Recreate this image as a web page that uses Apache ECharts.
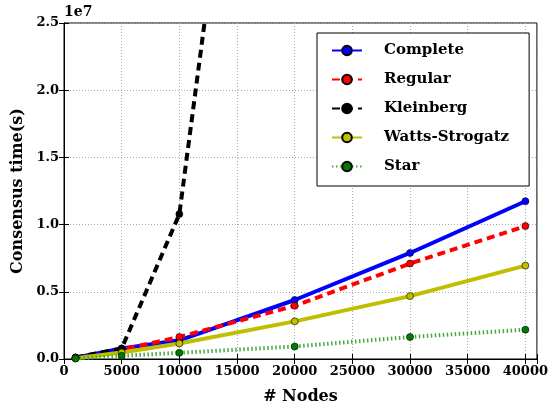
<!DOCTYPE html>
<html>
<head>
<meta charset="utf-8">
<script src="https://cdn.jsdelivr.net/npm/echarts@6/dist/echarts.min.js"></script>
<style>html,body{margin:0;padding:0;background:#fff;}#c{width:551px;height:410px;}</style>
</head>
<body>
<div id="c"></div>
<script>
var nodes = [1000, 5000, 10000, 20000, 30000, 40000];
var complete = [0.01e7, 0.078e7, 0.139e7, 0.439e7, 0.789e7, 1.174e7];
var regular = [0.01e7, 0.07e7, 0.164e7, 0.396e7, 0.71e7, 0.989e7];
var kleinberg = [0.012e7, 0.078e7, 1.078e7, 7.6e7];
var wattsStrogatz = [0.005e7, 0.048e7, 0.115e7, 0.28e7, 0.468e7, 0.695e7];
var star = [0.003e7, 0.024e7, 0.046e7, 0.093e7, 0.164e7, 0.218e7];
var xTicks = [0, 5000, 10000, 15000, 20000, 25000, 30000, 35000, 40000];
var yTicks = ['0.0', '0.5', '1.0', '1.5', '2.0', '2.5'];

function pairs(vals) { return vals.map(function (v, i) { return [nodes[i], v]; }); }

var FONT = 'DejaVu Serif';
var chart = echarts.init(document.getElementById('c'), null, {renderer: 'canvas'});

function mk(name, data, color, lineType, width, symColor) {
  return {
    name: name, type: 'line', data: pairs(data),
    symbol: 'circle', symbolSize: 7, showSymbol: true,
    lineStyle: {color: color, width: width, type: lineType, cap: 'butt'},
    itemStyle: {color: symColor || color, borderColor: '#000', borderWidth: 0.6},
    clip: true, z: 3, animation: false
  };
}

var gridLine = {show: true, lineStyle: {color: '#aaaaaa', width: 1, type: [1, 2]}};
var axisLine = {show: true, lineStyle: {color: '#000', width: 1}};
var tickStyle = {show: true, inside: true, length: 5, lineStyle: {color: '#000'}};
var labelStyle = {fontFamily: FONT, fontWeight: 'bold', fontSize: 13, color: '#000'};

var option = {
  animation: false,
  backgroundColor: '#fff',
  title: {text: '1e7', left: 64, top: 5, padding: 0,
    textStyle: {fontFamily: FONT, fontWeight: 'bold', fontSize: 14, color: '#000'}},
  grid: {left: 64, right: 13, top: 23, bottom: 50, show: true, borderColor: '#000', borderWidth: 1, backgroundColor: 'transparent'},
  legend: {
    orient: 'vertical', left: 317, top: 33,
    backgroundColor: '#fff', borderColor: '#000', borderWidth: 1,
    padding: [10, 20, 12, 14], itemWidth: 30, itemHeight: 12, itemGap: 14,
    textStyle: {fontFamily: FONT, fontWeight: 'bold', fontSize: 15, color: '#000', padding: [0, 0, 0, 17]},
    data: ['Complete', 'Regular', 'Kleinberg', 'Watts-Strogatz', 'Star']
  },
  xAxis: [{
    type: 'value', min: 0, max: 41000, interval: 5000,
    name: '# Nodes', nameLocation: 'middle', nameGap: 30,
    nameTextStyle: {fontFamily: FONT, fontWeight: 'bold', fontSize: 16, color: '#000'},
    axisLine: axisLine, axisTick: tickStyle, splitLine: gridLine,
    axisLabel: Object.assign({margin: 6, showMaxLabel: true, formatter: function (v) {
      var i = xTicks.indexOf(v); return i >= 0 ? String(xTicks[i]) : '';
    }}, labelStyle)
  }, {
    type: 'value', min: 0, max: 41000, interval: 5000, position: 'top',
    axisLine: axisLine, axisTick: tickStyle, splitLine: {show: false}, axisLabel: {show: false}
  }],
  yAxis: [{
    type: 'value', min: 0, max: 2.5e7, interval: 0.5e7,
    name: 'Consensus time(s)', nameLocation: 'middle', nameGap: 33,
    nameTextStyle: {fontFamily: FONT, fontWeight: 'bold', fontSize: 16, color: '#000'},
    axisLine: axisLine, axisTick: tickStyle, splitLine: gridLine,
    axisLabel: Object.assign({margin: 5, formatter: function (v) {
      var i = Math.round(v / 0.5e7); return yTicks[i] || '';
    }}, labelStyle)
  }, {
    type: 'value', min: 0, max: 2.5e7, interval: 0.5e7, position: 'right',
    axisLine: axisLine, axisTick: tickStyle, splitLine: {show: false}, axisLabel: {show: false}
  }],
  series: [
    mk('Complete', complete, '#0000ff', 'solid', 4),
    mk('Regular', regular, '#ff0000', [8, 5], 4),
    mk('Kleinberg', kleinberg, '#000000', [8, 5], 4),
    mk('Watts-Strogatz', wattsStrogatz, '#bfbf00', 'solid', 4),
    mk('Star', star, '#45a845', [1.5, 2.5], 4, '#007a00')
  ]
};
chart.setOption(option);
</script>
</body>
</html>
